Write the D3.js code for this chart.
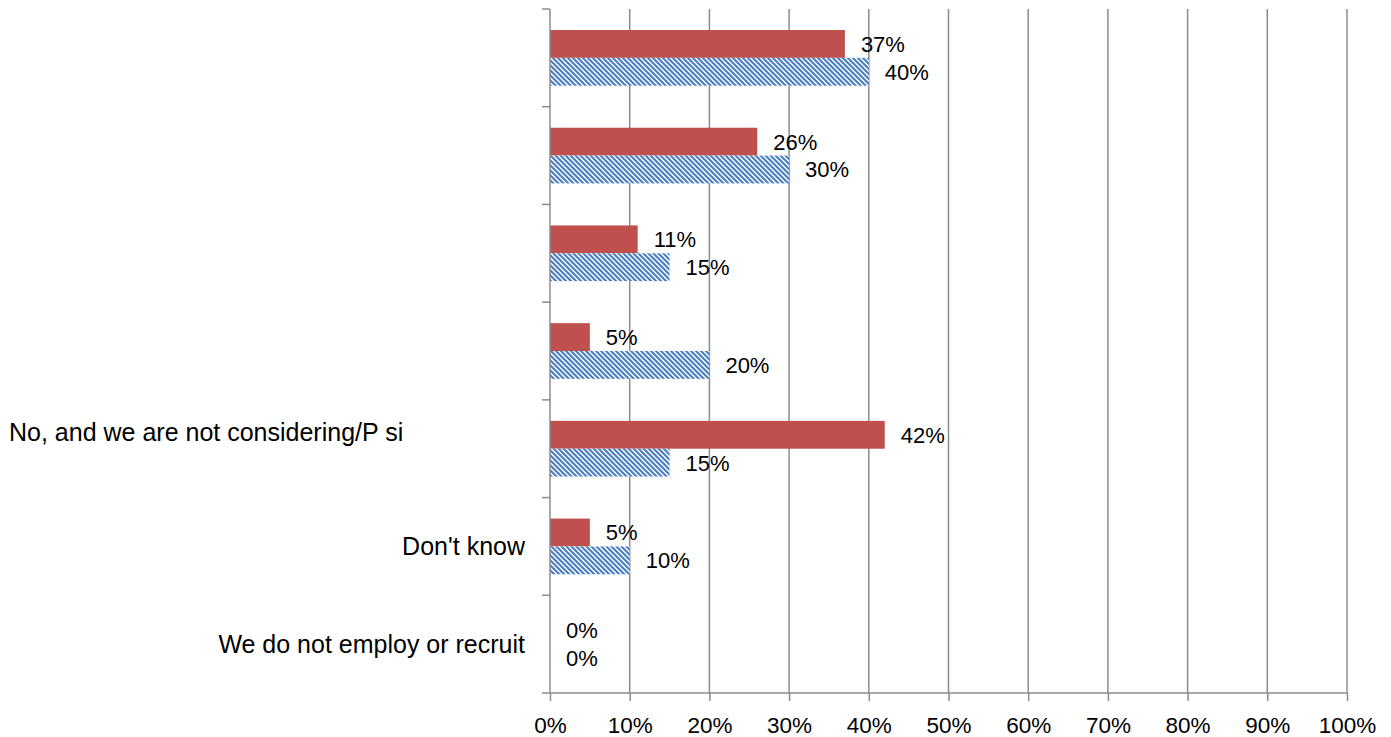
<!DOCTYPE html>
<html>
<head>
<meta charset="utf-8">
<script src="https://cdn.jsdelivr.net/npm/d3@7"></script>
<style>
  html, body { margin: 0; padding: 0; background: #fff; }
  svg { display: block; }
  text { font-family: "Liberation Sans", Arial, sans-serif; fill: #000; }
</style>
</head>
<body>
<svg id="chart" width="1391" height="737"></svg>
<script>
// ---- data ----
const categoryLines = [
  [""],
  [""],
  [""],
  [""],
  ["No, and we are not considering/P si", ""],
  ["Don't know"],
  ["We do not employ or recruit"]
];
const seriesNames = ["Series A", "Series B"];
const seriesA = [37, 26, 11, 5, 42, 5, 0];   // solid red
const seriesB = [40, 30, 15, 20, 15, 10, 0]; // blue hatched
const xTicks = [0, 10, 20, 30, 40, 50, 60, 70, 80, 90, 100];
const xTickLabels = ["0%", "10%", "20%", "30%", "40%", "50%", "60%", "70%", "80%", "90%", "100%"];

// ---- layout ----
const svg = d3.select("#chart");
const mLeft = 550, mRight = 1347, mTop = 9, mBottom = 693;
const gridColor = "#8c8c8c";
const labelRight = 525, labelLeftLimit = 9, maxLabelWidth = 370;

const defs = svg.append("defs");
const P = 5;
const pat = defs.append("pattern")
  .attr("id", "hatch")
  .attr("patternUnits", "userSpaceOnUse")
  .attr("width", P).attr("height", P);
pat.append("rect").attr("width", P).attr("height", P).attr("fill", "#fff");
pat.append("path")
  .attr("d", `M-1,-1 L${P + 1},${P + 1} M-1,${P - 1} L1,${P + 1} M${P - 1},-1 L${P + 1},1`)
  .attr("stroke", "#4A7EC4").attr("stroke-width", 2.1);

const x = d3.scaleLinear().domain([0, 100]).range([mLeft, mRight]);
const idx = d3.range(categoryLines.length);
const y = d3.scaleBand().domain(idx).range([mTop, mBottom]).paddingInner(0).paddingOuter(0);
const bw = y.bandwidth();
const sub = d3.scaleBand().domain(seriesNames).range([bw * 0.215, bw * 0.785]);

// gridlines
svg.append("g")
  .selectAll("line")
  .data(xTicks.slice(1))
  .join("line")
  .attr("x1", d => x(d)).attr("x2", d => x(d))
  .attr("y1", mTop).attr("y2", mBottom)
  .attr("stroke", gridColor).attr("stroke-width", 1.5);

// bars
const seriesData = [
  { name: seriesNames[0], values: seriesA, fill: "#C0504D" },
  { name: seriesNames[1], values: seriesB, fill: "url(#hatch)" }
];
seriesData.forEach(s => {
  svg.append("g")
    .selectAll("rect")
    .data(s.values.map((v, i) => ({ v, i })))
    .join("rect")
    .attr("x", x(0))
    .attr("y", d => y(d.i) + sub(s.name))
    .attr("width", d => x(d.v) - x(0))
    .attr("height", sub.bandwidth())
    .attr("fill", s.fill);

  svg.append("g")
    .selectAll("text")
    .data(s.values.map((v, i) => ({ v, i })))
    .join("text")
    .attr("x", d => x(d.v) + 16)
    .attr("y", d => y(d.i) + sub(s.name) + sub.bandwidth() / 2)
    .attr("dy", "0.36em")
    .attr("font-size", 22)
    .text(d => d.v + "%");
});

// y axis
const yAxis = svg.append("g").attr("transform", `translate(${mLeft},0)`);
yAxis.append("line")
  .attr("x1", 0).attr("x2", 0).attr("y1", mTop).attr("y2", mBottom)
  .attr("stroke", gridColor).attr("stroke-width", 1.5);
yAxis.selectAll("line.tick")
  .data(d3.range(categoryLines.length + 1))
  .join("line")
  .attr("class", "tick")
  .attr("x1", -8).attr("x2", 0)
  .attr("y1", d => mTop + d * bw).attr("y2", d => mTop + d * bw)
  .attr("stroke", gridColor).attr("stroke-width", 1.5);

// category labels
const lineH = 34;
svg.append("g")
  .selectAll("text")
  .data(idx)
  .join("text")
  .attr("text-anchor", "end")
  .attr("font-size", 25)
  .each(function(i) {
    const lines = categoryLines[i];
    const cy = y(i) + bw / 2 - (lines.length - 1) * lineH / 2;
    const t = d3.select(this);
    t.selectAll("tspan")
      .data(lines)
      .join("tspan")
      .attr("x", labelRight)
      .attr("y", (d, k) => cy + k * lineH)
      .attr("dy", "0.36em")
      .text(d => d);
    // overly long wrapped labels are left-aligned at the chart edge
    if (this.getComputedTextLength() > maxLabelWidth) {
      t.attr("text-anchor", "start");
      t.selectAll("tspan").attr("x", labelLeftLimit);
    }
  });

// x axis
const xAxisG = svg.append("g").attr("transform", `translate(0,${mBottom})`);
xAxisG.call(d3.axisBottom(x).tickValues(xTicks).tickFormat((d, k) => xTickLabels[k]).tickSize(8).tickPadding(16));
xAxisG.select(".domain").attr("stroke", gridColor).attr("stroke-width", 1.5).attr("d", `M${mLeft},0H${mRight}`);
xAxisG.selectAll(".tick line").attr("stroke", gridColor).attr("stroke-width", 1.5);
xAxisG.selectAll(".tick text")
  .attr("font-size", 22.5)
  .attr("font-family", "Liberation Sans, Arial, sans-serif")
  .attr("fill", "#000");
</script>
</body>
</html>
